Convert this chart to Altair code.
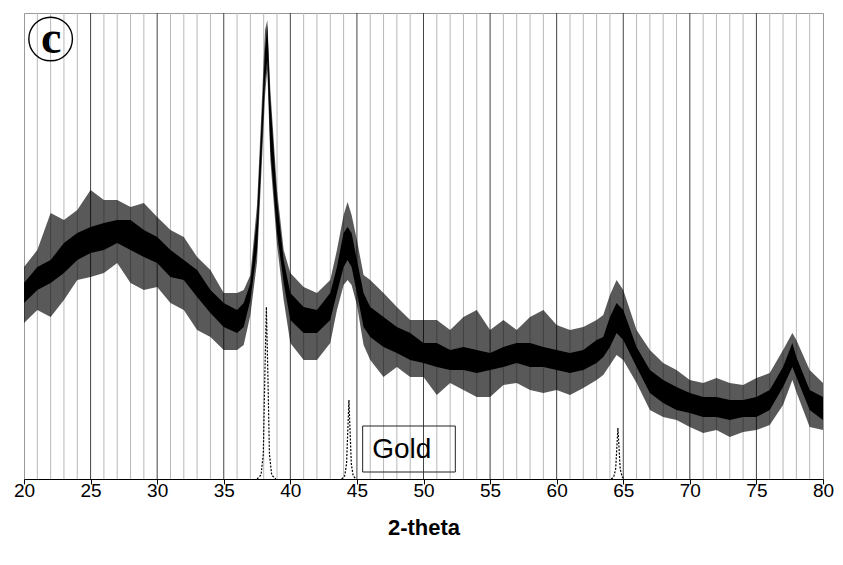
import altair as alt
import pandas as pd

# ---- data (intensity in arbitrary units) ----
two_theta = [20, 21, 22, 23, 24, 25, 26, 27, 28, 29, 30, 31, 32, 33, 34, 35, 36, 36.5, 37, 37.5,
             37.8, 38.1, 38.27, 38.5, 39, 39.5, 40, 41, 42, 43, 43.5, 44, 44.3, 44.6, 45, 45.5,
             46, 47, 48, 49, 50, 51, 52, 53, 54, 55, 56, 57, 58, 59, 60, 61, 62, 63, 63.5, 64,
             64.5, 65, 66, 67, 68, 69, 70, 71, 72, 73, 74, 75, 76, 77, 77.7, 78, 79, 80]
core_hi = [196, 212, 219, 236, 246, 252, 256, 259, 259, 249, 242, 229, 219, 209, 189, 176, 169, 176, 196, 262,
           346, 429, 454, 379, 279, 219, 186, 172, 169, 186, 212, 246, 252, 246, 219, 186,
           172, 162, 152, 146, 136, 136, 129, 132, 129, 126, 132, 136, 136, 132, 129, 126, 129, 139, 142, 162,
           176, 169, 132, 109, 99, 92, 86, 82, 82, 79, 79, 82, 89, 112, 136, 122, 89, 82]
core_lo = [176, 189, 196, 206, 219, 226, 229, 236, 229, 222, 216, 202, 199, 182, 166, 152, 146, 152, 179, 229,
           312, 399, 419, 329, 246, 196, 159, 146, 146, 159, 186, 212, 219, 212, 186, 152,
           142, 132, 126, 119, 116, 112, 109, 109, 106, 109, 112, 116, 112, 112, 109, 106, 109, 116, 122, 132,
           146, 139, 112, 86, 76, 69, 66, 62, 62, 59, 62, 62, 69, 92, 112, 102, 69, 59]
spike_hi = [212, 229, 266, 259, 269, 289, 279, 279, 272, 276, 262, 249, 242, 222, 209, 186, 186, 189, 204, 274,
            359, 449, 459, 389, 289, 229, 206, 192, 186, 199, 229, 264, 277, 264, 239, 204,
            199, 186, 172, 159, 159, 159, 149, 162, 169, 149, 159, 149, 162, 169, 154, 149, 152, 159, 164, 184,
            199, 189, 149, 129, 116, 109, 99, 96, 101, 96, 94, 101, 106, 129, 146, 139, 109, 96]
spike_lo = [156, 169, 162, 179, 199, 202, 206, 216, 196, 189, 192, 176, 169, 149, 142, 129, 129, 134, 164, 217,
            299, 384, 409, 319, 234, 179, 136, 119, 119, 136, 169, 194, 199, 194, 174, 134,
            119, 102, 112, 102, 102, 84, 96, 89, 82, 82, 94, 96, 89, 86, 89, 84, 91, 99, 104, 114,
            124, 119, 96, 69, 62, 59, 52, 46, 49, 42, 47, 49, 54, 74, 99, 87, 52, 49]

# gold reference pattern (dotted peaks)
gold_peak = ["111"] * 9 + ["200"] * 9 + ["220"] * 9
gold_x = [37.5, 37.8, 37.97, 38.08, 38.2, 38.32, 38.43, 38.6, 38.9,
          43.85, 44.08, 44.22, 44.32, 44.4, 44.48, 44.58, 44.72, 44.95,
          64.1, 64.28, 64.43, 64.52, 64.6, 64.68, 64.77, 64.92, 65.1]
gold_y = [0, 4, 25, 100, 172, 100, 25, 4, 0,
          0, 3, 15, 50, 79, 50, 15, 3, 0,
          0, 2, 10, 32, 51, 32, 10, 2, 0]

minor_ticks = [v for v in range(21, 80) if v % 5 != 0]
major_ticks = [25, 30, 35, 40, 45, 50, 55, 60, 65, 70, 75]
x_labels = list(range(20, 81, 5))

xs = alt.Scale(domain=[20, 80], nice=False, zero=False)
ys = alt.Scale(domain=[0, 466], nice=False, zero=True)

df = pd.DataFrame({"t": two_theta, "chi": core_hi, "clo": core_lo,
                   "shi": spike_hi, "slo": spike_lo})
gold = pd.DataFrame({"peak": gold_peak, "t": gold_x, "y": gold_y})

xenc = alt.X("t:Q", scale=xs,
             axis=alt.Axis(values=x_labels, grid=False, tickSize=5, tickColor="#000",
                           domainColor="#000", labelFontSize=19, labelFont="Liberation Sans",
                           labelColor="#000", labelBaseline="middle", labelPadding=6,
                           labelFlush=False, labelOverlap=False,
                           title="2-theta", titleFont="Liberation Sans", titleFontSize=22,
                           titleFontWeight="bold", titleColor="#000", titlePadding=17))

minor = alt.Chart(pd.DataFrame({"t": minor_ticks})).mark_rule(
    color="#b8b8b8", strokeWidth=1).encode(x=xenc)
major = alt.Chart(pd.DataFrame({"t": major_ticks})).mark_rule(
    color="#444444", strokeWidth=1).encode(x=alt.X("t:Q", scale=xs))

envelope = alt.Chart(df).mark_area(color="#000", opacity=0.65, interpolate="linear").encode(
    x=alt.X("t:Q", scale=xs), y=alt.Y("shi:Q", scale=ys, axis=None), y2="slo:Q")
core = alt.Chart(df).mark_area(color="#000", opacity=1, interpolate="linear").encode(
    x=alt.X("t:Q", scale=xs), y=alt.Y("chi:Q", scale=ys, axis=None), y2="clo:Q")

gold_line = alt.Chart(gold).mark_line(color="#000", strokeWidth=1.2, strokeDash=[2, 1.5]).encode(
    x=alt.X("t:Q", scale=xs), y=alt.Y("y:Q", scale=ys, axis=None), detail="peak:N")

box = alt.Chart(pd.DataFrame({"x1": [45.43], "x2": [52.39], "y1": [7], "y2": [53]})).mark_rect(
    fill=None, stroke="#222", strokeWidth=1).encode(
    x=alt.X("x1:Q", scale=xs), x2="x2:Q", y=alt.Y("y1:Q", scale=ys, axis=None), y2="y2:Q")
gold_text = alt.Chart(pd.DataFrame({"x": [46.15], "y": [21], "s": ["Gold"]})).mark_text(
    align="left", baseline="alphabetic", font="Liberation Sans", fontSize=28, color="#000").encode(
    x=alt.X("x:Q", scale=xs), y=alt.Y("y:Q", scale=ys, axis=None), text="s:N")

circ = alt.Chart(pd.DataFrame({"x": [22.0], "y": [440]})).mark_point(
    shape="circle", size=1900, filled=False, stroke="#000", strokeWidth=1.4, opacity=1).encode(
    x=alt.X("x:Q", scale=xs), y=alt.Y("y:Q", scale=ys, axis=None))
ctext = alt.Chart(pd.DataFrame({"x": [22.05], "y": [426], "s": ["c"]})).mark_text(
    align="center", baseline="alphabetic", font="Liberation Serif", fontWeight="bold",
    fontSize=46, color="#000").encode(
    x=alt.X("x:Q", scale=xs), y=alt.Y("y:Q", scale=ys, axis=None), text="s:N")

chart = alt.layer(minor, major, box, gold_text, gold_line, envelope, core, circ, ctext).properties(
    width=799, height=466,
    autosize=alt.AutoSizeParams(type="none"),
    padding={"left": 16, "top": 5, "right": 12, "bottom": 70},
).configure_view(stroke="#999999", strokeWidth=1)

chart.save("out.html", embed_options={"renderer": "svg", "actions": False})
